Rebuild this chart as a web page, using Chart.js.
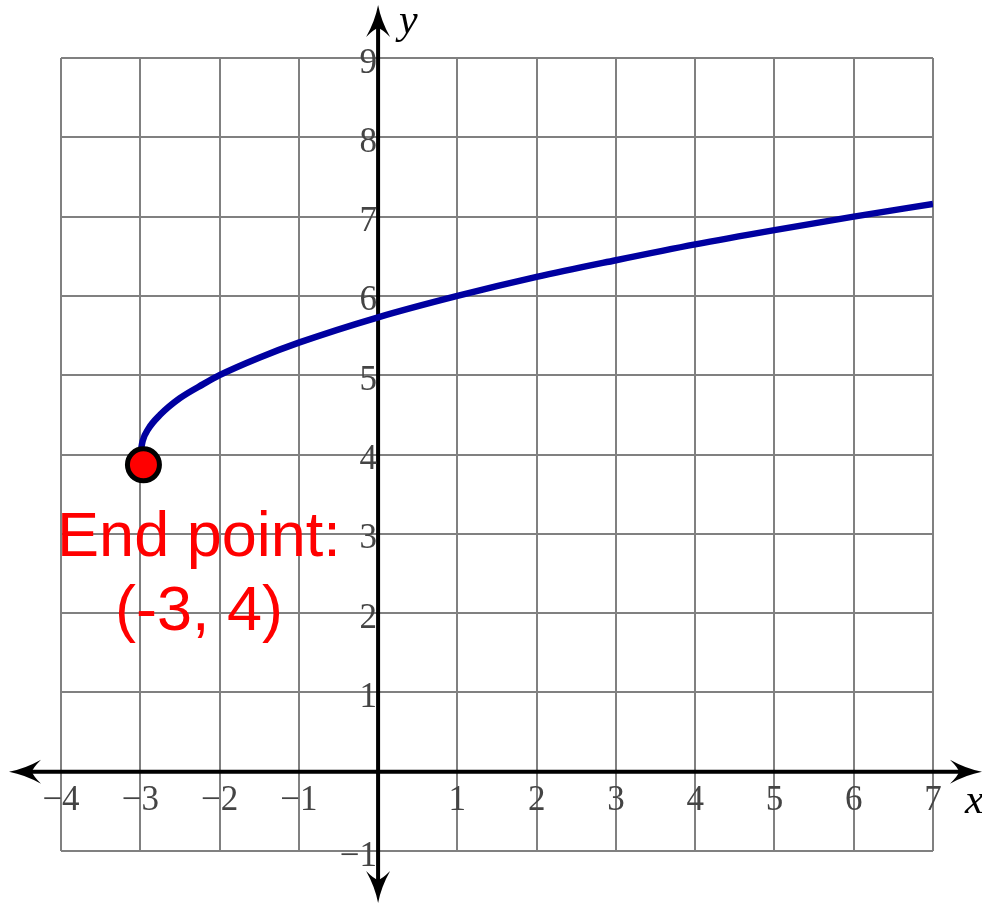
<!DOCTYPE html>
<html>
<head>
<meta charset="utf-8">
<script src="https://cdn.jsdelivr.net/npm/chart.js@4/dist/chart.umd.min.js"></script>
<style>
    html, body { margin: 0; padding: 0; background: #ffffff; }
    #wrap { width: 982px; height: 904px; }
</style>
</head>
<body>
<div id="wrap"><canvas id="myGraph" width="982" height="904"></canvas></div>
<script>
// Werte
const curveX = [-3, -2.97, -2.9, -2.75, -2.5, -2.2, -2, -1.5, -1, 0, 1, 2, 3, 4, 5, 6, 7];
const curveY = [4, 4.17, 4.32, 4.5, 4.71, 4.89, 5, 5.22, 5.41, 5.73, 6, 6.24, 6.45, 6.65, 6.83, 7, 7.16];
const endPointX = [-2.96];
const endPointY = [3.87];
const xTickValues = [-4, -3, -2, -1, 1, 2, 3, 4, 5, 6, 7];
const yTickValues = [-1, 1, 2, 3, 4, 5, 6, 7, 8, 9];
const noteLines = ["End point:", "(-3, 4)"];
const noteX = -2.26;
const noteY = 2.72;

const tickFont = '35px "Liberation Serif", "DejaVu Serif", serif';
const titleFont = 'italic 42px "Liberation Serif", "DejaVu Serif", serif';

function toPoints(xs, ys) {
    return xs.map((x, i) => ({x: x, y: ys[i]}));
}

function fmt(v) {
    return v < 0 ? "\u2212" + Math.abs(v) : String(v);
}

// Pfeilspitze, zeigt in Richtung angle
function drawArrow(ctx, x, y, angle) {
    ctx.save();
    ctx.translate(x, y);
    ctx.rotate(angle);
    ctx.beginPath();
    ctx.moveTo(0, 0);
    ctx.quadraticCurveTo(-16, -3, -32, -12);
    ctx.quadraticCurveTo(-24, -4, -23, 0);
    ctx.quadraticCurveTo(-24, 4, -32, 12);
    ctx.quadraticCurveTo(-16, 3, 0, 0);
    ctx.closePath();
    ctx.fillStyle = "#000000";
    ctx.fill();
    ctx.restore();
}

const axesPlugin = {
    id: "axesPlugin",
    beforeDatasetsDraw(chart) {
        const ctx = chart.ctx;
        const xs = chart.scales.x;
        const ys = chart.scales.y;
        const area = chart.chartArea;
        const x0 = xs.getPixelForValue(0);
        const y0 = ys.getPixelForValue(0);

        const leftTip = area.left - 52;
        const rightTip = area.right + 49;
        const topTip = area.top - 53;
        const bottomTip = area.bottom + 52;

        ctx.save();
        ctx.strokeStyle = "#000000";
        ctx.lineWidth = 4;
        ctx.beginPath();
        ctx.moveTo(leftTip + 20, y0);
        ctx.lineTo(rightTip - 20, y0);
        ctx.moveTo(x0, topTip + 20);
        ctx.lineTo(x0, bottomTip - 20);
        ctx.stroke();
        drawArrow(ctx, leftTip, y0, Math.PI);
        drawArrow(ctx, rightTip, y0, 0);
        drawArrow(ctx, x0, topTip, -Math.PI / 2);
        drawArrow(ctx, x0, bottomTip, Math.PI / 2);

        ctx.fillStyle = "#444444";
        ctx.font = tickFont;
        ctx.textBaseline = "alphabetic";
        ctx.textAlign = "center";
        xTickValues.forEach((v) => {
            ctx.fillText(fmt(v), xs.getPixelForValue(v), y0 + 38);
        });
        ctx.textAlign = "right";
        yTickValues.forEach((v) => {
            ctx.fillText(fmt(v), x0 - 1, ys.getPixelForValue(v) + 14.5);
        });

        ctx.fillStyle = "#000000";
        ctx.font = titleFont;
        ctx.textAlign = "left";
        ctx.fillText("x", area.right + 32, y0 + 41);
        ctx.fillText("y", x0 + 21, topTip + 28);
        ctx.restore();
    },
    afterDatasetsDraw(chart) {
        const ctx = chart.ctx;
        const px = chart.scales.x.getPixelForValue(noteX);
        const py = chart.scales.y.getPixelForValue(noteY);
        ctx.save();
        ctx.fillStyle = "#ff0000";
        ctx.font = '63px "Liberation Sans", Arial, sans-serif';
        ctx.textAlign = "center";
        ctx.textBaseline = "alphabetic";
        noteLines.forEach((line, i) => {
            ctx.fillText(line, px, py + i * 74);
        });
        ctx.restore();
    }
};

const ctx = document.getElementById("myGraph");
const myGraph = new Chart(ctx, {
    type: "scatter",
    data: {
        datasets: [{
            data: toPoints(endPointX, endPointY),
            backgroundColor: "#ff0000",
            borderColor: "#000000",
            borderWidth: 5,
            pointRadius: 16,
            clip: false
        }, {
            data: toPoints(curveX, curveY),
            showLine: true,
            borderColor: "#0000a0",
            borderWidth: 6.5,
            pointRadius: 0,
            fill: false,
            cubicInterpolationMode: "monotone"
        }]
    },
    options: {
        responsive: false,
        animation: false,
        layout: {
            padding: {left: 61, right: 49, top: 58, bottom: 53}
        },
        plugins: {
            legend: {display: false},
            tooltip: {enabled: false}
        },
        scales: {
            x: {
                type: "linear",
                min: -4,
                max: 7,
                ticks: {stepSize: 1, display: false},
                grid: {color: "#808080", lineWidth: 2, drawTicks: false},
                border: {display: false},
                afterFit: (scale) => { scale.height = 0; }
            },
            y: {
                type: "linear",
                min: -1,
                max: 9,
                ticks: {stepSize: 1, display: false},
                grid: {color: "#808080", lineWidth: 2, drawTicks: false},
                border: {display: false},
                afterFit: (scale) => { scale.width = 0; }
            }
        }
    },
    plugins: [axesPlugin]
});
</script>
</body>
</html>
